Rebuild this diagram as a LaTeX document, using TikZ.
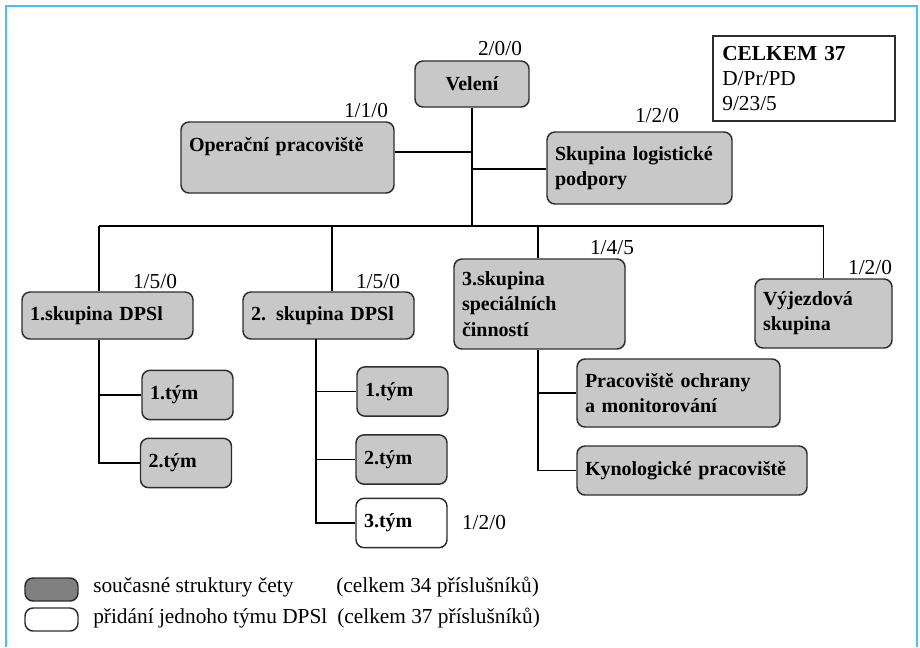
\documentclass[tikz,border=0pt]{standalone}
\usepackage{fontspec}
\setmainfont{Liberation Serif}

\definecolor{framecol}{RGB}{72,192,240}
\definecolor{boxgray}{RGB}{200,200,200}
\definecolor{leggray}{RGB}{128,128,128}
\definecolor{edgegray}{RGB}{45,45,45}

\begin{document}
\begin{tikzpicture}[x = 0.75pt, y = -0.75pt,
    orgbox/.style = {draw = edgegray, line width = 1.1pt, fill = boxgray, rounded corners = 6pt,
        inner xsep = 6pt, inner ysep = 2pt, align = left, font = \fontsize{15}{19}\selectfont\bfseries},
    team/.style = {orgbox, text width = 56.25pt, minimum height = 37pt},
    total/.style = {draw = edgegray, line width = 1.1pt, fill = white, align = left, inner xsep = 7pt,
        text width = 122.5pt, minimum height = 63.75pt, font = \fontsize{16}{18.75}\selectfont},
    count/.style = {inner sep = 0pt, font = \fontsize{16}{18}\selectfont},
    link/.style = {line width = 1.1pt, black},
    legtext/.style = {anchor = west, inner sep = 0pt, font = \fontsize{16}{18}\selectfont}]

    \useasboundingbox (0,0) rectangle (920,647);
    \draw [framecol, line width = 1.9pt] (6,647) -- (6,6) -- (917,6) -- (917,647);

    % upper level
    \node [orgbox, align = center, minimum width = 85.5pt, minimum height = 34.5pt] (velen) at (472,84) {Velení};
    \node [orgbox, text width = 147.75pt, minimum height = 53.25pt, text depth = 20pt] (oper) at (287.5,157.5) {Operační pracoviště};
    \node [orgbox, text width = 126.75pt, minimum height = 54pt] (logis) at (639.5,168) {Skupina logistické\\podpory};
    \node [total] (celk) at (804,78.5) {\textbf{CELKEM 37}\\D/Pr/PD\\9/23/5};

    % groups
    \node [orgbox, text width = 116.25pt, minimum height = 35.25pt] (grpa) at (107.5,315.5) {1.skupina DPSl};
    \node [orgbox, text width = 116.25pt, minimum height = 35.25pt] (grpb) at (328.5,315.5) {2. skupina DPSl};
    \node [orgbox, text width = 116.25pt, minimum height = 67.5pt] (grpc) at (539.5,304) {3.skupina\\speciálních\\činností};
    \node [orgbox, text width = 90.75pt, minimum height = 51.75pt] (vyjezd) at (823.5,313.5) {Výjezdová\\skupina};

    % teams
    \node [team] (tma) at (187.5,395) {1.tým};
    \node [team] (tmb) at (186,463) {2.tým};
    \node [team] (tmc) at (402.5,391.5) {1.tým};
    \node [team] (tmd) at (401.5,459.5) {2.tým};
    \node [team, fill = white] (tme) at (401.5,523) {3.tým};
    \node [orgbox, text width = 140.25pt, minimum height = 51pt] (ochr) at (678.5,393) {Pracoviště ochrany\\a monitorování};
    \node [orgbox, text width = 160.5pt, minimum height = 36.75pt] (kyno) at (692,470.5) {Kynologické pracoviště};

    \coordinate (bus) at (472,226);
    \coordinate (joina) at (472,152);
    \coordinate (joinb) at (472,169);
    \coordinate (dropa) at (99,226);
    \coordinate (dropb) at (332,226);
    \coordinate (dropc) at (538,226);
    \coordinate (subb) at (316,339);

    \draw [link] (velen) -- (bus);
    \draw [link] (joina) -- (oper.east |- joina);
    \draw [link] (joinb) -- (logis.west |- joinb);
    \draw [link] (dropa) -- (vyjezd.north |- bus) -- (vyjezd.north);
    \draw [link] (dropa) -- (dropa |- grpa.north);
    \draw [link] (dropb) -- (dropb |- grpb.north);
    \draw [link] (dropc) -- (dropc |- grpc.north);

    \draw [link] (dropa |- grpa.south) -- (dropa |- tmb.west) -- (tmb.west);
    \draw [link] (dropa |- tma.west) -- (tma.west);
    \draw [link] (subb) -- (subb |- tme.west) -- (tme.west);
    \draw [link] (subb |- tmc.west) -- (tmc.west);
    \draw [link] (subb |- tmd.west) -- (tmd.west);
    \draw [link] (dropc |- grpc.south) -- (dropc |- kyno.west) -- (kyno.west);
    \draw [link] (dropc |- ochr.west) -- (ochr.west);

    % head counts
    \node [count] (cvelen) at (500,49) {2/0/0};
    \node [count] (coper) at (366,111) {1/1/0};
    \node [count] (clogis) at (657,116) {1/2/0};
    \node [count] (cgrpa) at (155,282) {1/5/0};
    \node [count] (cgrpb) at (378,282) {1/5/0};
    \node [count] (cgrpc) at (612,248) {1/4/5};
    \node [count] (cvyjezd) at (870,268) {1/2/0};
    \node [count] (ctme) at (484,522) {1/2/0};

    % legend
    \node [orgbox, fill = leggray, inner sep = 0pt, minimum width = 39.75pt, minimum height = 17.25pt] (lega) at (51.5,589.5) {};
    \node [orgbox, fill = white, inner sep = 0pt, minimum width = 39.75pt, minimum height = 17.25pt] (legb) at (51.5,619.5) {};
    \node [legtext] (txa) at (93,587) {současné struktury čety};
    \node [legtext] (txb) at (336,587) {(celkem 34 příslušníků)};
    \node [legtext] (txc) at (93,618) {přidání jednoho týmu DPSl};
    \node [legtext] (txd) at (337,618) {(celkem 37 příslušníků)};
\end{tikzpicture}
\end{document}
